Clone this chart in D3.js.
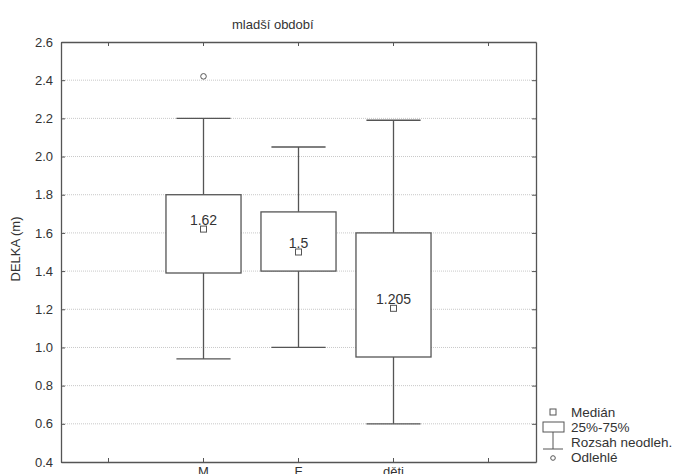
<!DOCTYPE html>
<html><head><meta charset="utf-8">
<script src="https://cdn.jsdelivr.net/npm/d3@7"></script>
<style>
html,body{margin:0;padding:0;background:#fff;overflow:hidden;}
svg{display:block;font-family:Arial,"Liberation Sans",sans-serif;}
</style></head>
<body>
<svg id="c" width="673" height="474"></svg>
<script>
// ---- data ----
const categories = ["M", "F", "děti"];
const whiskerLow  = [0.94, 1.00, 0.60];
const q1          = [1.39, 1.40, 0.95];
const medians     = [1.62, 1.50, 1.205];
const q3          = [1.80, 1.71, 1.60];
const whiskerHigh = [2.20, 2.05, 2.19];
const outliers    = [{cat: "M", value: 2.42}];
const yTicks = [0.4, 0.6, 0.8, 1.0, 1.2, 1.4, 1.6, 1.8, 2.0, 2.2, 2.4, 2.6];
const slots = ["", ...categories, " "];
const legendItems = ["Medián", "25%-75%", "Rozsah neodleh.", "Odlehlé"];
const title = "mladší období";
const yLabel = "DELKA (m)";

// ---- layout ----
const svg = d3.select("#c");
const L = 61, R = 536, T = 42, B = 462;
const ink = "#555", txt = "#333";

const x = d3.scaleBand().domain(slots).range([L, R]).paddingInner(0).paddingOuter(0);
const y = d3.scaleLinear().domain([0.4, 2.6]).range([B, T]);
const cx = c => x(c) + x.bandwidth() / 2;

// gridlines
svg.append("g").selectAll("line").data(yTicks.slice(1, -1)).join("line")
  .attr("x1", L).attr("x2", R).attr("y1", d => y(d)).attr("y2", d => y(d))
  .attr("stroke", "#c8c8c8").attr("stroke-dasharray", "1,1");

// axes (inward ticks on all sides)
const fmt = d3.format(".1f");
const gl = svg.append("g").attr("transform", `translate(${L},0)`)
  .call(d3.axisLeft(y).tickValues(yTicks).tickFormat(fmt).tickSizeInner(-4).tickSizeOuter(0).tickPadding(8));
const gr = svg.append("g").attr("transform", `translate(${R},0)`)
  .call(d3.axisRight(y).tickValues(yTicks).tickFormat("").tickSizeInner(-4).tickSizeOuter(0));
const gb = svg.append("g").attr("transform", `translate(0,${B})`)
  .call(d3.axisBottom(x).tickSizeInner(-4).tickSizeOuter(0).tickPadding(5));
const gt = svg.append("g").attr("transform", `translate(0,${T})`)
  .call(d3.axisTop(x).tickFormat("").tickSizeInner(-4).tickSizeOuter(0));
[gl, gr, gb, gt].forEach(g => {
  g.select(".domain").attr("stroke", ink).attr("stroke-width", 1.3);
  g.selectAll(".tick line").attr("stroke", ink);
  g.selectAll(".tick text").attr("fill", txt).attr("font-size", 13).attr("font-family", "Arial, 'Liberation Sans', sans-serif");
});
gb.selectAll(".tick text").attr("dy", "0.71em");

// boxes
const bw = x.bandwidth() * 0.79, cw = x.bandwidth() * 0.57;
const g = svg.append("g");
categories.forEach((c, i) => {
  const xc = cx(c);
  // whiskers
  g.append("line").attr("x1", xc).attr("x2", xc).attr("y1", y(whiskerHigh[i])).attr("y2", y(q3[i])).attr("stroke", ink).attr("stroke-width", 1.3);
  g.append("line").attr("x1", xc).attr("x2", xc).attr("y1", y(q1[i])).attr("y2", y(whiskerLow[i])).attr("stroke", ink).attr("stroke-width", 1.3);
  g.append("line").attr("x1", xc - cw / 2).attr("x2", xc + cw / 2).attr("y1", y(whiskerHigh[i])).attr("y2", y(whiskerHigh[i])).attr("stroke", ink).attr("stroke-width", 1.3);
  g.append("line").attr("x1", xc - cw / 2).attr("x2", xc + cw / 2).attr("y1", y(whiskerLow[i])).attr("y2", y(whiskerLow[i])).attr("stroke", ink).attr("stroke-width", 1.3);
  // box
  g.append("rect").attr("x", xc - bw / 2).attr("width", bw).attr("y", y(q3[i])).attr("height", y(q1[i]) - y(q3[i]))
    .attr("fill", "#fff").attr("stroke", ink).attr("stroke-width", 1.3);
  // median marker
  g.append("rect").attr("x", xc - 3).attr("y", y(medians[i]) - 3).attr("width", 6).attr("height", 6)
    .attr("fill", "#fff").attr("stroke", ink).attr("stroke-width", 1);
  g.append("text").attr("x", xc).attr("y", y(medians[i]) - 4).attr("text-anchor", "middle")
    .attr("font-size", 14).attr("fill", txt).text(String(medians[i]));
});
outliers.forEach(o => {
  g.append("circle").attr("cx", cx(o.cat)).attr("cy", y(o.value)).attr("r", 2.8)
    .attr("fill", "#fff").attr("stroke", ink).attr("stroke-width", 1);
});

// title and y label
svg.append("text").attr("x", 232).attr("y", 29).attr("font-size", 13).attr("fill", txt).text(title);
svg.append("text").attr("transform", "translate(20,249) rotate(-90)").attr("text-anchor", "middle")
  .attr("font-size", 13).attr("fill", txt).text(yLabel);

// legend
const lg = svg.append("g");
const lx = 553, ly0 = 412, dy = 15;
lg.append("rect").attr("x", lx - 3).attr("y", ly0 - 3).attr("width", 6).attr("height", 6).attr("fill", "#fff").attr("stroke", ink);
lg.append("rect").attr("x", lx - 10).attr("y", ly0 + dy - 5).attr("width", 21).attr("height", 10).attr("fill", "#fff").attr("stroke", ink);
lg.append("line").attr("x1", lx).attr("x2", lx).attr("y1", ly0 + dy + 5).attr("y2", ly0 + 2 * dy + 7).attr("stroke", ink);
lg.append("line").attr("x1", lx - 10).attr("x2", lx + 10).attr("y1", ly0 + 2 * dy + 7).attr("y2", ly0 + 2 * dy + 7).attr("stroke", ink);
lg.append("circle").attr("cx", lx).attr("cy", ly0 + 3 * dy + 1).attr("r", 2.3).attr("fill", "#fff").attr("stroke", ink);
legendItems.forEach((t, i) => {
  lg.append("text").attr("x", 571).attr("y", ly0 + i * dy + 4.5).attr("font-size", 13.5).attr("fill", txt).text(t);
});
</script>
</body></html>
